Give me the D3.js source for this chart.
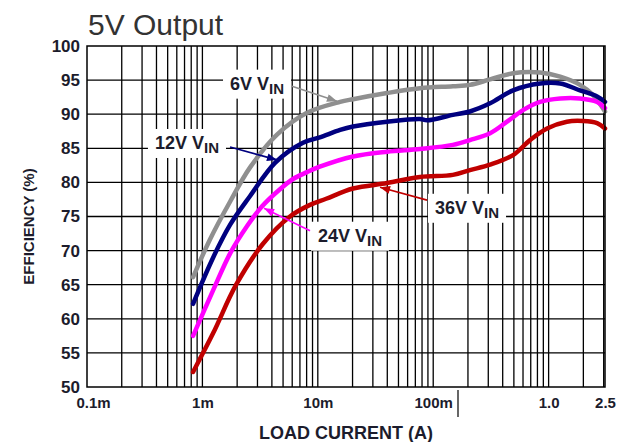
<!DOCTYPE html>
<html>
<head>
<meta charset="utf-8">
<script src="https://cdn.jsdelivr.net/npm/d3@7"></script>
<style>
  body { margin: 0; background: #fff; }
  svg { display: block; font-family: "Liberation Sans", Arial, sans-serif; }
</style>
</head>
<body>
<div id="chart"></div>
<script>
// load current (A) and efficiency (%)
const current6V = [0.00083, 0.00116, 0.00174, 0.00259, 0.00443, 0.00806, 0.0156, 0.0202, 0.0398, 0.0769, 0.148, 0.208, 0.311, 0.492, 0.843, 1.26, 1.87, 2.43, 3.08];
const eff6V = [66.1, 71.6, 77.2, 82.2, 87.0, 90.2, 91.8, 92.2, 93.1, 93.8, 94.1, 94.3, 95.1, 96.0, 96.1, 95.5, 94.3, 92.8, 90.4];

const current12V = [0.00083, 0.00124, 0.00174, 0.00259, 0.00428, 0.00744, 0.0104, 0.0156, 0.0202, 0.0398, 0.0769, 0.0884, 0.148, 0.208, 0.311, 0.492, 0.843, 1.26, 1.87, 2.63, 3.08];
const eff12V = [62.2, 69.0, 73.8, 78.0, 82.9, 85.8, 86.6, 87.7, 88.2, 88.9, 89.3, 89.1, 89.9, 90.4, 91.6, 93.5, 94.5, 94.5, 93.5, 92.6, 91.8];

const current24V = [0.00083, 0.00124, 0.00174, 0.00244, 0.00329, 0.0047, 0.0061, 0.00806, 0.0104, 0.0202, 0.0398, 0.0769, 0.148, 0.208, 0.311, 0.436, 0.6, 0.843, 1.26, 1.87, 2.63, 3.08];
const eff24V = [57.5, 64.2, 69.6, 73.6, 76.5, 79.0, 80.5, 81.5, 82.3, 83.8, 84.5, 84.9, 85.5, 86.2, 87.2, 88.9, 90.6, 91.8, 92.3, 92.3, 91.8, 90.9];

const current36V = [0.00083, 0.00124, 0.00196, 0.00335, 0.00574, 0.00856, 0.0118, 0.0202, 0.0398, 0.0769, 0.148, 0.208, 0.311, 0.492, 0.69, 0.969, 1.44, 1.99, 2.63, 3.08];
const eff36V = [52.2, 57.9, 65.0, 71.0, 75.0, 76.7, 77.6, 79.1, 79.9, 80.8, 81.1, 81.8, 82.6, 84.0, 86.2, 87.9, 88.9, 89.0, 88.7, 87.9];

const xTickValues = [0.0001, 0.001, 0.01, 0.1, 1, 3.08];
const xTickLabels = ['0.1m', '1m', '10m', '100m', '1.0', '2.5'];
const yTickValues = [50, 55, 60, 65, 70, 75, 80, 85, 90, 95, 100];

const config = {
  width: 618,
  height: 442,
  margin: { top: 46, right: 13, bottom: 55, left: 87 },
  xDomain: [0.0001, 3.08],
  yDomain: [50, 100],
  lineWidth: 4.5,
  textColor: '#1c1c2c'
};

const series = [
  { name: '6V', color: '#8f8f8f', x: current6V, y: eff6V,
    label: [0.001735, 93.6], tail: [0.00598, 94.1], tip: [0.01466, 91.9] },
  { name: '12V', color: '#00007f', x: current12V, y: eff12V,
    label: [0.000388, 84.9], tail: [0.001735, 85.2], tip: [0.00443, 83.3] },
  { name: '24V', color: '#ff00ff', x: current24V, y: eff24V,
    label: [0.01004, 71.3], tail: [0.00856, 72.9], tip: [0.00342, 76.2] },
  { name: '36V', color: '#c00000', x: current36V, y: eff36V,
    label: [0.1036, 75.4], tail: [0.0884, 77.4], tip: [0.0346, 79.3] }
];

const svg = d3.select('#chart').append('svg')
  .attr('width', config.width)
  .attr('height', config.height);

const x = d3.scaleLog()
  .domain(config.xDomain)
  .range([config.margin.left, config.width - config.margin.right]);
const y = d3.scaleLinear()
  .domain(config.yDomain)
  .range([config.height - config.margin.bottom, config.margin.top]);

const [x0, x1] = x.range();
const [y0, y1] = y.range();

// title
svg.append('text')
  .attr('x', 88).attr('y', 35)
  .attr('font-size', 30).attr('fill', '#333')
  .text('5V Output');

// grid
const minorX = [];
for (let p = -4; p <= 0; p++) {
  for (let k = 1; k <= 9; k++) {
    const v = k * Math.pow(10, p);
    if (v > config.xDomain[0] && v < config.xDomain[1]) minorX.push(v);
  }
}
const grid = svg.append('g').attr('stroke', '#000').attr('stroke-width', 1.3);
grid.selectAll('line.v').data(minorX).enter().append('line')
  .attr('x1', d => x(d)).attr('x2', d => x(d))
  .attr('y1', y1).attr('y2', y0);
grid.selectAll('line.h').data(yTickValues.slice(1, -1)).enter().append('line')
  .attr('x1', x0).attr('x2', x1)
  .attr('y1', d => y(d)).attr('y2', d => y(d));

// axes (labels only)
const xAxis = svg.append('g')
  .attr('transform', `translate(0,${y0})`)
  .call(d3.axisBottom(x).tickValues(xTickValues).tickSize(0).tickPadding(10)
    .tickFormat((d, i) => xTickLabels[i]));
xAxis.select('.domain').remove();
xAxis.selectAll('text')
  .attr('font-size', 15).attr('font-weight', 'bold').attr('fill', config.textColor)
  .attr('font-family', '"Liberation Sans", Arial, sans-serif');
xAxis.selectAll('.tick').filter((d, i) => i === 0).select('text').attr('dx', 6);

const yAxis = svg.append('g')
  .attr('transform', `translate(${x0},0)`)
  .call(d3.axisLeft(y).tickValues(yTickValues).tickSize(0).tickPadding(7));
yAxis.select('.domain').remove();
yAxis.selectAll('text')
  .attr('font-size', 17).attr('font-weight', 'bold').attr('fill', config.textColor)
  .attr('font-family', '"Liberation Sans", Arial, sans-serif');

// stray cursor mark below the 100m label
svg.append('line')
  .attr('x1', 458).attr('x2', 458).attr('y1', 390).attr('y2', 417)
  .attr('stroke', '#000').attr('stroke-width', 1.2);

// axis titles
svg.append('text')
  .attr('x', (x0 + x1) / 2).attr('y', 439)
  .attr('text-anchor', 'middle')
  .attr('font-size', 18).attr('font-weight', 'bold').attr('fill', config.textColor)
  .text('LOAD CURRENT (A)');
svg.append('text')
  .attr('transform', `translate(34,${(y0 + y1) / 2 + 10}) rotate(-90)`)
  .attr('text-anchor', 'middle')
  .attr('font-size', 15).attr('font-weight', 'bold').attr('fill', config.textColor)
  .text('EFFICIENCY (%)');

// label boxes go under the curves but over the grid
const boxLayer = svg.append('g');
const curveLayer = svg.append('g');
const arrowLayer = svg.append('g');
const labelLayer = svg.append('g');

const line = d3.line()
  .x(d => x(d[0]))
  .y(d => y(d[1]))
  .curve(d3.curveCatmullRom.alpha(0.5));

const defs = svg.append('defs');

series.forEach((s, i) => {
  const pts = s.x.map((v, j) => [v, s.y[j]]);
  curveLayer.append('path')
    .attr('d', line(pts))
    .attr('fill', 'none')
    .attr('stroke', s.color)
    .attr('stroke-width', config.lineWidth)
    .attr('stroke-linecap', 'round')
    .attr('stroke-linejoin', 'round');

  defs.append('marker')
    .attr('id', 'arrow' + i)
    .attr('viewBox', '0 0 10 8')
    .attr('refX', 10).attr('refY', 4)
    .attr('markerWidth', 12).attr('markerHeight', 8)
    .attr('markerUnits', 'userSpaceOnUse')
    .attr('orient', 'auto')
    .append('path')
    .attr('d', 'M0,0 L10,4 L0,8 Z')
    .attr('fill', s.color);

  arrowLayer.append('line')
    .attr('x1', x(s.tail[0])).attr('y1', y(s.tail[1]))
    .attr('x2', x(s.tip[0])).attr('y2', y(s.tip[1]))
    .attr('stroke', s.color).attr('stroke-width', 1.6)
    .attr('marker-end', `url(#arrow${i})`);

  const t = labelLayer.append('text')
    .attr('x', x(s.label[0])).attr('y', y(s.label[1]))
    .attr('font-size', 18).attr('font-weight', 'bold').attr('fill', config.textColor);
  t.append('tspan').text(s.name + ' V');
  t.append('tspan').attr('dy', 4).attr('font-size', 15).text('IN');

  const bb = t.node().getBBox();
  boxLayer.append('rect')
    .attr('x', bb.x - 7).attr('y', bb.y - 4)
    .attr('width', bb.width + 14).attr('height', bb.height + 6)
    .attr('fill', '#fff');
});

// frame
svg.append('rect')
  .attr('x', x0).attr('y', y1)
  .attr('width', x1 - x0).attr('height', y0 - y1)
  .attr('fill', 'none').attr('stroke', '#000').attr('stroke-width', 1.5);
</script>
</body>
</html>
